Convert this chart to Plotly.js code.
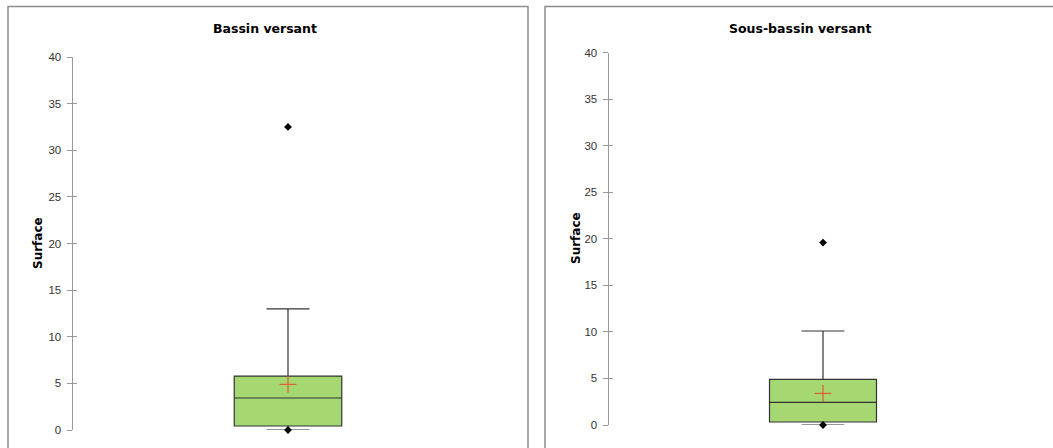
<!DOCTYPE html>
<html>
<head>
<meta charset="utf-8">
<script src="https://cdn.plot.ly/plotly-3.0.1.min.js"></script>
<style>html,body{margin:0;padding:0;background:#fff;}#chart{width:1053px;height:448px;}</style>
</head>
<body>
<div id="chart"></div>
<script>
// Data (XLSTAT-style box plots)
const panelTitles = ["Bassin versant", "Sous-bassin versant"];
const yTitle = "Surface";
const q1Values = [0.43, 0.32];
const medianValues = [3.43, 2.44];
const q3Values = [5.78, 4.9];
const lowerWhisker = [0.0, 0.0];
const upperWhisker = [13.0, 10.1];
const meanValues = [4.9, 3.4];
const minValues = [0.0, 0.0];
const outlierValues = [[32.5], [19.6]];
const yTickVals = [0, 5, 10, 15, 20, 25, 30, 35, 40];

const traces = [];
const axSuffix = ["", "2"];
for (let i = 0; i < 2; i++) {
  const xa = "x" + axSuffix[i], ya = "y" + axSuffix[i];
  traces.push({
    type: "box", x: [0], q1: [q1Values[i]], median: [medianValues[i]], q3: [q3Values[i]],
    lowerfence: [lowerWhisker[i]], upperfence: [upperWhisker[i]],
    width: 0.5, whiskerwidth: 0.4,
    fillcolor: "#a5d872", line: {color: "#333333", width: 1.2},
    boxpoints: false, hoverinfo: "skip", showlegend: false,
    xaxis: xa, yaxis: ya
  });
  traces.push({
    type: "scatter", mode: "markers", x: [0], y: [meanValues[i]],
    marker: {symbol: "cross-thin", size: 12, line: {color: "#e8452a", width: 1}},
    showlegend: false, cliponaxis: false, xaxis: xa, yaxis: ya
  });
  const pts = outlierValues[i].concat([minValues[i]]);
  traces.push({
    type: "scatter", mode: "markers", x: pts.map(() => 0), y: pts,
    marker: {symbol: "diamond", size: 6, color: "#000"},
    showlegend: false, cliponaxis: false, xaxis: xa, yaxis: ya
  });
}

const yCommon = {
  range: [0, 40], tickvals: yTickVals, ticks: "outside", ticklen: 5, tickwidth: 1,
  tickcolor: "#9a9a9a", showline: true, linecolor: "#9a9a9a", linewidth: 1.5,
  showgrid: false, zeroline: false, fixedrange: true, ticklabelstandoff: 3,
  tickfont: {family: "Liberation Sans, Arial, sans-serif", size: 11.5, color: "#333"}
};
const xCommon = {range: [-1, 1], visible: false, fixedrange: true};

const layout = {
  width: 1053, height: 448,
  margin: {l: 0, r: 0, t: 0, b: 0},
  paper_bgcolor: "#fff", plot_bgcolor: "rgba(0,0,0,0)",
  showlegend: false,
  xaxis: Object.assign({}, xCommon, {domain: [73/1053, 503/1053], anchor: "y"}),
  xaxis2: Object.assign({}, xCommon, {domain: [609/1053, 1037/1053], anchor: "y2"}),
  yaxis: Object.assign({}, yCommon, {domain: [1 - 430/448, 1 - 57/448], anchor: "x"}),
  yaxis2: Object.assign({}, yCommon, {domain: [1 - 425/448, 1 - 52.7/448], anchor: "x2"}),
  yaxis3: Object.assign({}, yCommon, {domain: [1 - 430/448, 1 - 57/448], anchor: "x", overlaying: "y", ticks: "inside", ticklen: 4, showticklabels: false, showline: false}),
  yaxis4: Object.assign({}, yCommon, {domain: [1 - 425/448, 1 - 52.7/448], anchor: "x2", overlaying: "y2", ticks: "inside", ticklen: 4, showticklabels: false, showline: false}),
  shapes: [
    {type: "rect", xref: "paper", yref: "paper", x0: 8/1053, x1: 528/1053, y0: -0.05, y1: 1 - 6.5/448, line: {color: "#8c8c8c", width: 1.5}, fillcolor: "rgba(0,0,0,0)"},
    {type: "rect", xref: "paper", yref: "paper", x0: 545/1053, x1: 1.05, y0: -0.05, y1: 1 - 6.5/448, line: {color: "#8c8c8c", width: 1.5}, fillcolor: "rgba(0,0,0,0)"}
  ],
  annotations: [
    {text: "<b>" + panelTitles[0] + "</b>", xref: "paper", yref: "paper", x: 265/1053, y: 1 - 28/448, showarrow: false, xanchor: "center", yanchor: "middle", font: {family: "DejaVu Sans, Arial, sans-serif", size: 12.5, color: "#000"}},
    {text: "<b>" + panelTitles[1] + "</b>", xref: "paper", yref: "paper", x: 800/1053, y: 1 - 28/448, showarrow: false, xanchor: "center", yanchor: "middle", font: {family: "DejaVu Sans, Arial, sans-serif", size: 12.5, color: "#000"}},
    {text: "<b>" + yTitle + "</b>", xref: "paper", yref: "paper", x: 38/1053, y: 1 - 243/448, showarrow: false, textangle: -90, xanchor: "center", yanchor: "middle", font: {family: "DejaVu Sans, Arial, sans-serif", size: 12, color: "#000"}},
    {text: "<b>" + yTitle + "</b>", xref: "paper", yref: "paper", x: 576/1053, y: 1 - 238/448, showarrow: false, textangle: -90, xanchor: "center", yanchor: "middle", font: {family: "DejaVu Sans, Arial, sans-serif", size: 12, color: "#000"}}
  ]
};

// invisible traces so the overlay tick axes render
traces.push({type: "scatter", x: [0], y: [0], yaxis: "y3", xaxis: "x", mode: "markers", marker: {opacity: 0}, hoverinfo: "skip", showlegend: false});
traces.push({type: "scatter", x: [0], y: [0], yaxis: "y4", xaxis: "x2", mode: "markers", marker: {opacity: 0}, hoverinfo: "skip", showlegend: false});

Plotly.newPlot("chart", traces, layout, {staticPlot: true, displayModeBar: false});
</script>
</body>
</html>
